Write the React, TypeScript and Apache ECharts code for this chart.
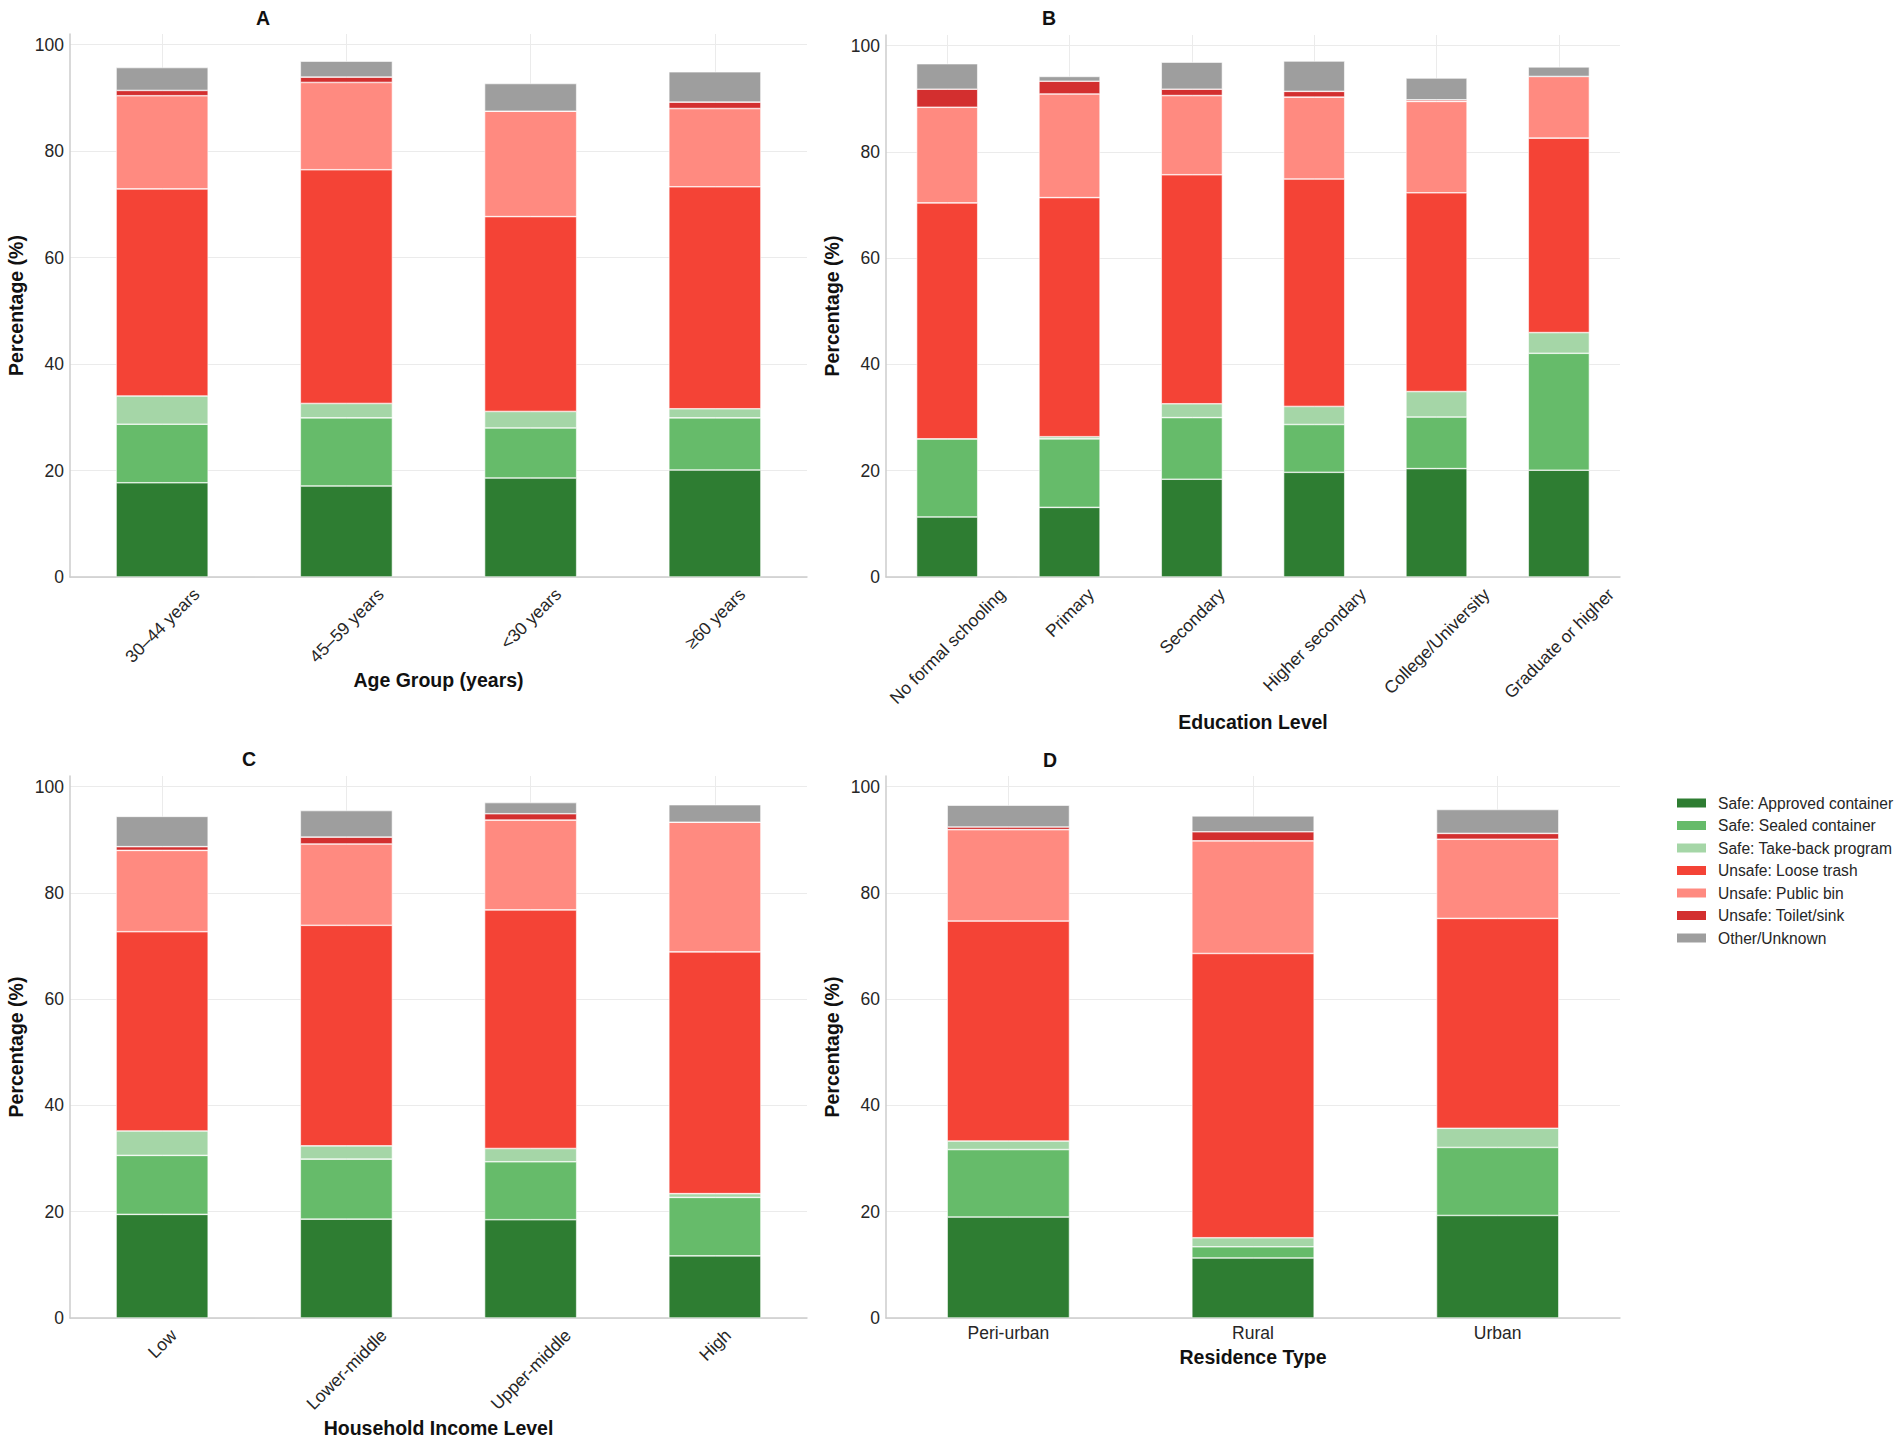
import React, { useEffect, useRef } from "react";
import * as echarts from "echarts";

// series (stack order, bottom to top)
const seriesNames = [
  "Safe: Approved container",
  "Safe: Sealed container",
  "Safe: Take-back program",
  "Unsafe: Loose trash",
  "Unsafe: Public bin",
  "Unsafe: Toilet/sink",
  "Other/Unknown",
];
const seriesColors = ["#2e7d32", "#66bb6a", "#a5d6a7", "#f44336", "#ff8a80", "#d32f2f", "#9e9e9e"];

// A: age group
const ageGroups = ["30–44 years", "45–59 years", "<30 years", "≥60 years"];
const approvedA = [17.7, 17.1, 18.6, 20.1];
const sealedA = [11.0, 12.8, 9.4, 9.8];
const takebackA = [5.3, 2.7, 3.1, 1.7];
const looseA = [38.9, 43.9, 36.6, 41.7];
const publicA = [17.5, 16.4, 19.8, 14.7];
const toiletA = [1.0, 1.0, 0, 1.2];
const otherA = [4.3, 3.0, 5.2, 5.7];

// B: education
const educationLevels = ["No formal schooling", "Primary", "Secondary", "Higher secondary", "College/University", "Graduate or higher"];
const approvedB = [11.3, 13.1, 18.4, 19.7, 20.4, 20.1];
const sealedB = [14.7, 12.9, 11.6, 9.0, 9.7, 22.0];
const takebackB = [0, 0.4, 2.6, 3.4, 4.8, 3.9];
const looseB = [44.4, 45.0, 43.1, 42.8, 37.4, 36.6];
const publicB = [18.0, 19.5, 14.9, 15.4, 17.2, 11.6];
const toiletB = [3.4, 2.4, 1.2, 1.1, 0.3, 0];
const otherB = [4.8, 0.9, 5.1, 5.7, 4.1, 1.8];

// C: income
const incomeLevels = ["Low", "Lower-middle", "Upper-middle", "High"];
const approvedC = [19.5, 18.6, 18.5, 11.7];
const sealedC = [11.1, 11.3, 10.9, 11.0];
const takebackC = [4.6, 2.5, 2.5, 0.7];
const looseC = [37.5, 41.5, 44.9, 45.5];
const publicC = [15.3, 15.3, 16.9, 24.4];
const toiletC = [0.7, 1.3, 1.2, 0];
const otherC = [5.7, 5.0, 2.1, 3.3];

// D: residence
const residenceTypes = ["Peri-urban", "Rural", "Urban"];
const approvedD = [19.0, 11.3, 19.3];
const sealedD = [12.7, 2.1, 12.8];
const takebackD = [1.6, 1.7, 3.6];
const looseD = [41.4, 53.5, 39.5];
const publicD = [17.2, 21.2, 14.9];
const toiletD = [0.5, 1.7, 1.1];
const otherD = [4.1, 3.0, 4.5];

const yTicks = [0, 20, 40, 60, 80, 100];

const FONT = '"Liberation Sans", Arial, Helvetica, sans-serif';
const TICK_SIZE = 17.5;
const NAME_SIZE = 19.5;
const TEXT = "#262626";
const LABEL_PAD = 8;

const panels = [
  {
    title: "A", titleLeft: 263, titleTop: 8,
    axisName: "Age Group (years)", nameGap: 93, rotate: 45,
    categories: ageGroups,
    values: [approvedA, sealedA, takebackA, looseA, publicA, toiletA, otherA],
    grid: { left: 70, top: 34, width: 737, height: 543 },
  },
  {
    title: "B", titleLeft: 1049, titleTop: 8,
    axisName: "Education Level", nameGap: 135, rotate: 45,
    categories: educationLevels,
    values: [approvedB, sealedB, takebackB, looseB, publicB, toiletB, otherB],
    grid: { left: 886, top: 35, width: 734, height: 542 },
  },
  {
    title: "C", titleLeft: 249, titleTop: 749,
    axisName: "Household Income Level", nameGap: 100, rotate: 45,
    categories: incomeLevels,
    values: [approvedC, sealedC, takebackC, looseC, publicC, toiletC, otherC],
    grid: { left: 70, top: 776, width: 737, height: 542 },
  },
  {
    title: "D", titleLeft: 1050, titleTop: 750,
    axisName: "Residence Type", nameGap: 29, rotate: 0,
    categories: residenceTypes,
    values: [approvedD, sealedD, takebackD, looseD, publicD, toiletD, otherD],
    grid: { left: 886, top: 776, width: 734, height: 542 },
  },
];

export default function App() {
  const ref = useRef<HTMLDivElement>(null);

  useEffect(() => {
    if (!ref.current) return;
    document.body.style.margin = "0";
    const chart = echarts.init(ref.current, undefined, { renderer: "svg" });

    const axisLine = { show: true, lineStyle: { color: "#cccccc", width: 1.5 } };
    const splitLine = { show: true, lineStyle: { color: "#ebebeb", width: 1 } };

    const option = {
      animation: false,
      backgroundColor: "#ffffff",
      textStyle: { fontFamily: FONT },
      title: panels.map((p) => ({
        text: p.title,
        left: p.titleLeft,
        top: p.titleTop,
        textAlign: "center",
        padding: 0,
        textStyle: { fontSize: NAME_SIZE, fontWeight: "bold", color: "#111111", fontFamily: FONT },
      })),
      legend: {
        data: seriesNames,
        orient: "vertical",
        left: 1670,
        top: 790,
        itemWidth: 31,
        itemHeight: 11,
        itemGap: 6.5,
        icon: "rect",
        selectedMode: false,
        textStyle: { fontSize: 15.6, color: TEXT, fontFamily: FONT, padding: [0, 0, 0, 6] },
      },
      grid: panels.map((p) => ({ ...p.grid, containLabel: false })),
      xAxis: panels.map((p, k) => ({
        type: "category",
        gridIndex: k,
        data: p.categories,
        name: p.axisName,
        nameLocation: "middle",
        nameGap: p.nameGap,
        nameTextStyle: { fontSize: NAME_SIZE, fontWeight: "bold", color: "#111111", fontFamily: FONT },
        axisLine,
        axisTick: { show: false },
        splitLine: { ...splitLine, interval: 0, alignWithLabel: true },
        axisLabel: {
          // rotated labels are drawn below, centred on their ticks
          show: !p.rotate,
          interval: 0,
          margin: 6,
          fontSize: TICK_SIZE,
          color: TEXT,
          fontFamily: FONT,
        },
      })),
      yAxis: panels.map((p, k) => ({
        type: "value",
        gridIndex: k,
        min: yTicks[0],
        max: 102,
        interval: 20,
        name: "Percentage (%)",
        nameLocation: "middle",
        nameGap: 44,
        nameTextStyle: { fontSize: NAME_SIZE, fontWeight: "bold", color: "#111111", fontFamily: FONT },
        axisLine,
        axisTick: { show: false },
        splitLine: { ...splitLine, showMaxLine: false },
        axisLabel: {
          showMaxLabel: false,
          margin: 6,
          fontSize: TICK_SIZE,
          color: TEXT,
          fontFamily: FONT,
          formatter: (v: number) => (yTicks.includes(v) ? String(v) : ""),
        },
      })),
      series: panels.flatMap((p, k) =>
        seriesNames.map((name, i) => ({
          name,
          type: "bar",
          stack: "panel" + k,
          xAxisIndex: k,
          yAxisIndex: k,
          barWidth: "50%",
          data: p.values[i],
          itemStyle: { color: seriesColors[i], borderColor: "#ffffff", borderWidth: 0.6 },
          emphasis: { disabled: true },
        }))
      ),
    };

    chart.setOption(option as any);

    // 45° tick labels centred under each category (matplotlib ha="center")
    const ctx = document.createElement("canvas").getContext("2d")!;
    ctx.font = `${TICK_SIZE}px ${FONT}`;
    const labels: any[] = [];
    panels.forEach((p, k) => {
      if (!p.rotate) return;
      const y0 = chart.convertToPixel({ yAxisIndex: k } as any, 0) as number;
      p.categories.forEach((c, j) => {
        const x = chart.convertToPixel({ xAxisIndex: k } as any, j) as number;
        const w = ctx.measureText(c).width;
        labels.push({
          type: "text",
          silent: true,
          x: x + 0.3536 * (w - TICK_SIZE),
          y: y0 + LABEL_PAD,
          rotation: Math.PI / 4,
          style: {
            text: c,
            align: "right",
            verticalAlign: "top",
            fontSize: TICK_SIZE,
            fontFamily: FONT,
            fill: TEXT,
          },
        });
      });
    });
    chart.setOption({ graphic: labels } as any);

    return () => chart.dispose();
  }, []);

  return <div ref={ref} style={{ width: 1902, height: 1443 }} />;
}
